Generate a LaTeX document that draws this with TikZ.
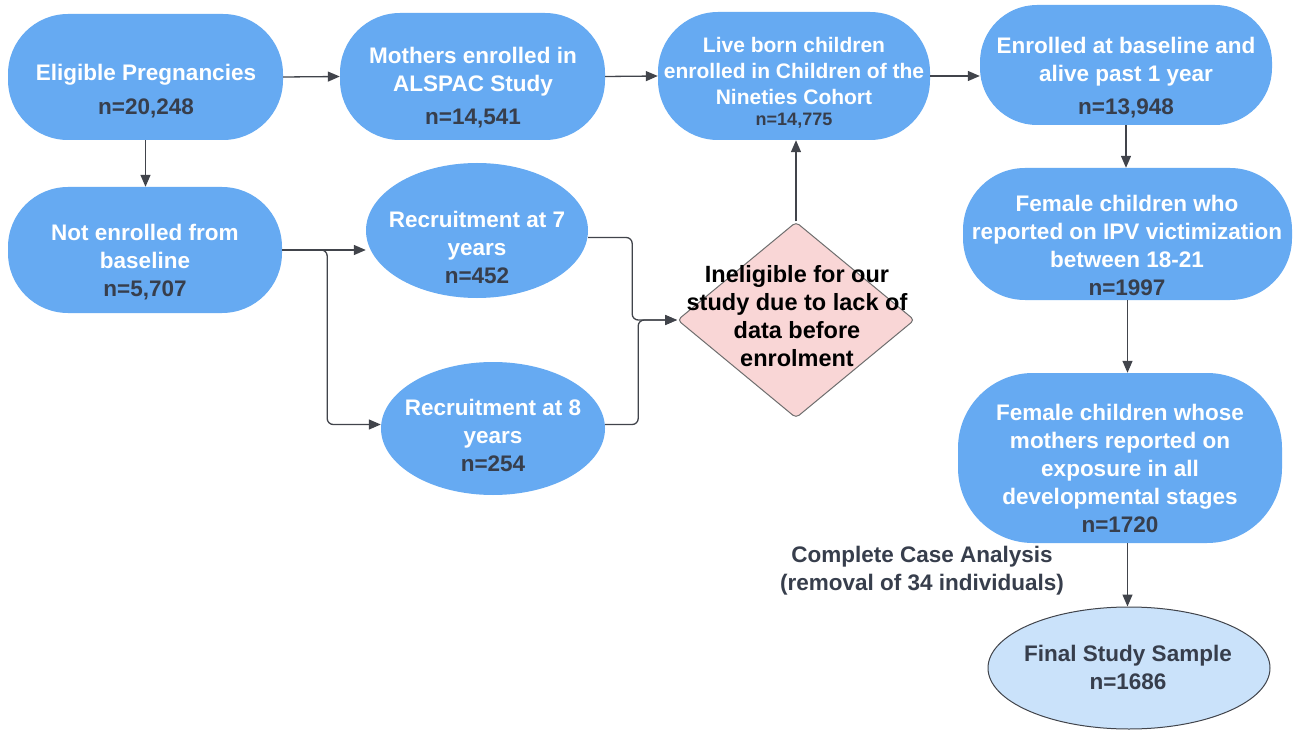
\documentclass[tikz,border=0pt]{standalone}
\usepackage{fontspec}
\setmainfont{Liberation Sans}
\usetikzlibrary{shapes.geometric,arrows.meta}
\definecolor{boxblue}{RGB}{102,170,242}
\definecolor{ntext}{RGB}{55,62,76}
\definecolor{pinkfill}{RGB}{249,214,214}
\definecolor{lightblue}{RGB}{202,226,250}
\definecolor{linecol}{RGB}{65,68,75}
\definecolor{diaedge}{RGB}{110,110,110}
\tikzset{
  stad/.style={fill=boxblue, inner sep=0pt},
  ovalbox/.style={ellipse, fill=boxblue, inner sep=0pt},
  txt/.style={align=center, font=\bfseries\fontsize{22.5}{28}\selectfont, text=white, inner sep=0pt},
  conn/.style={draw=linecol, line width=1.3pt, -{Triangle[length=12pt,width=10pt]}, rounded corners=6pt},
}
\newcommand{\nn}[1]{\textcolor{ntext}{#1}}
\begin{document}
\begin{tikzpicture}[x=1pt,y=-1pt]
\fill[white] (0,0) rectangle (1299,730);
\useasboundingbox (0,0) rectangle (1299,730);

% shapes
\node[stad, minimum width=275pt, minimum height=126pt, rounded corners=60pt] (elig) at (145.5,77) {};
\node[stad, minimum width=265pt, minimum height=127pt, rounded corners=60pt] (moth) at (472.5,76.5) {};
\node[stad, minimum width=272pt, minimum height=128pt, rounded corners=60pt] (live) at (794,76) {};
\node[stad, minimum width=292pt, minimum height=120pt, rounded corners=57pt] (enr) at (1126,65) {};
\node[stad, minimum width=274pt, minimum height=126pt, rounded corners=60pt] (ne) at (145,250) {};
\node[stad, minimum width=329pt, minimum height=132pt, rounded corners=62pt] (fa) at (1127.5,234) {};
\node[stad, minimum width=324pt, minimum height=170pt, rounded corners=75pt] (fb) at (1120,458) {};
\node[ovalbox, minimum width=222pt, minimum height=135pt] (rs) at (477,230.5) {};
\node[ovalbox, minimum width=224pt, minimum height=133pt] (re) at (493,428.5) {};
\node[diamond, fill=pinkfill, draw=diaedge, line width=1pt, minimum width=237pt, minimum height=196pt, inner sep=0pt, rounded corners=4pt] (dia) at (796,320) {};
\node[ellipse, fill=lightblue, draw=linecol, line width=1pt, minimum width=282pt, minimum height=122pt, inner sep=0pt] (fin) at (1129,668) {};

% texts
\node[txt] (eligT) at (146,91) {Eligible Pregnancies\\[6pt]\nn{n=20,248}};
\node[txt] (mothT) at (473,87.5) {Mothers enrolled in\\ALSPAC Study\\[5pt]\nn{n=14,541}};
\node[txt, font=\bfseries\fontsize{21}{26}\selectfont] (liveT) at (794,83) {Live born children\\enrolled in Children of the\\Nineties Cohort\\[-5pt]\nn{\fontsize{18}{20}\selectfont n=14,775}};
\node[txt] (enrT) at (1126,77.5) {Enrolled at baseline and\\alive past 1 year\\[5pt]\nn{n=13,948}};
\node[txt] (neT) at (145,262) {Not enrolled from\\baseline\\\nn{n=5,707}};
\node[txt] (faT) at (1127,245.5) {Female children who\\reported on IPV victimization\\between 18-21\\\nn{n=1997}};
\node[txt] (fbT) at (1120,468.5) {Female children whose\\mothers reported on\\exposure in all\\developmental stages\\\nn{n=1720}};
\node[txt] (rsT) at (477,247) {Recruitment at 7\\years\\\nn{n=452}};
\node[txt] (reT) at (493,435.5) {Recruitment at 8\\years\\\nn{n=254}};
\node[txt, text=black, font=\bfseries\fontsize{23.5}{28}\selectfont] (diaT) at (797,316) {Ineligible for our\\study due to lack of\\data before\\enrolment};
\node[txt, text=ntext] (finT) at (1128,667) {Final Study Sample\\n=1686};
\node[txt, text=ntext] (cca) at (922,571) {Complete Case Analysis\\(removal of 34 individuals)};

% connectors
\draw[conn] (elig.east) -- (moth.west);
\draw[conn] (moth.east) -- (live.west);
\draw[conn] (live.east) -- (live.east -| enr.west);
\draw[conn] (enr.south) -- (enr.south |- fa.north);
\draw[conn] (fa.south) -- (fa.south |- fb.north);
\draw[conn] (fa.south |- fb.south) -- (fa.south |- fin.north);
\draw[conn] (elig.south) -- (elig.south |- ne.north);
\draw[conn] (ne.east) -- (ne.east -| rs.west);
\draw[conn] (ne.east) -- ++(45,0) |- ([yshift=4pt]re.west);
\draw[conn] ([yshift=-7pt]rs.east) -- ++(44,0) |- (dia.west);
\draw[conn] ([yshift=4pt]re.east) -- ++(33,0) |- (dia.west);
\draw[conn] (dia.north) -- (dia.north |- live.south);
\end{tikzpicture}
\end{document}
